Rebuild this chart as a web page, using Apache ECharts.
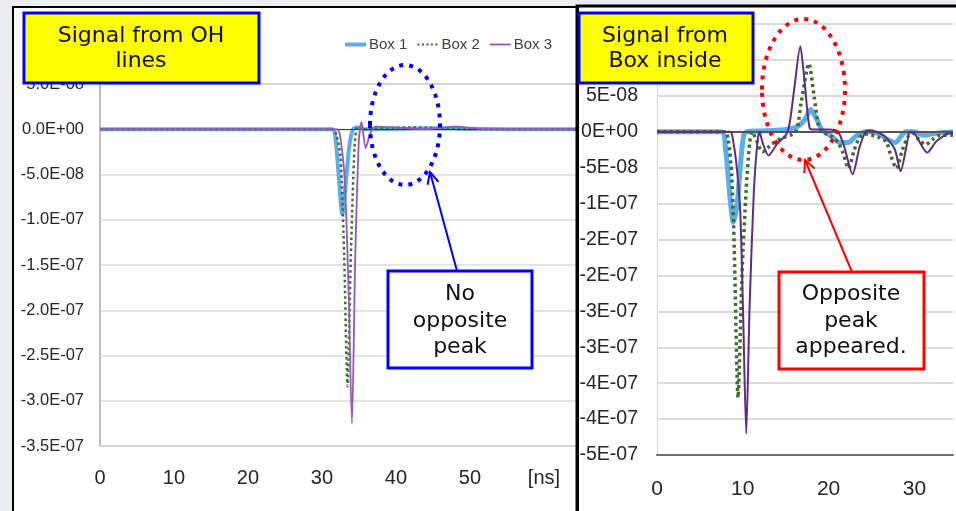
<!DOCTYPE html>
<html><head><meta charset="utf-8">
<script src="https://cdn.jsdelivr.net/npm/echarts@6/dist/echarts.min.js"></script>
<style>html,body{margin:0;padding:0;background:#fff}#c{width:956px;height:511px}</style>
</head><body><div id="c"></div><script>
// ---------- DATA ----------
const seriesNames = ['Box 1', 'Box 2', 'Box 3'];
// Left chart: "Signal from OH lines"  [time ns, signal]
const leftBox1 = [[0,0],[31.4,0],[31.8,-0.8e-8],[32.2,-4.5e-8],[32.75,-9.4e-8],[33.2,-6e-8],[33.7,-1.8e-8],[34.2,0],[34.8,0.2e-8],[36,0],[45,0.1e-8],[55,0],[64.6,0]];
const leftBox2 = [[0,0],[31.4,0],[31.9,-0.5e-8],[32.5,-3e-8],[33.0,-1.4e-7],[33.45,-2.84e-7],[33.9,-1.4e-7],[34.4,-2e-8],[34.8,0.3e-8],[35.5,0],[42,0.2e-8],[50,0],[64.6,0]];
const leftBox3 = [[0,0],[32.0,0],[32.5,-1e-8],[33.1,-6e-8],[33.6,-1.8e-7],[34.05,-3.25e-7],[34.5,-1.4e-7],[35.0,-1e-8],[35.35,0.8e-8],[35.9,-2.1e-8],[36.5,-0.5e-8],[37.2,0.3e-8],[40,0.2e-8],[44,0],[48,0.3e-8],[52,0],[64.6,0]];
// Right chart: "Signal from Box inside"
const rightBox1 = [[0,0],[7.5,0],[8.0,-2.5e-8],[8.5,-9e-8],[8.9,-1.26e-7],[9.3,-1.05e-7],[9.7,-5e-8],[10.1,-0.5e-8],[10.5,0],[12,0.1e-8],[14,0.2e-8],[15.5,0.4e-8],[16.5,0.8e-8],[17.3,1.8e-8],[17.9,3.1e-8],[18.6,1.8e-8],[19.2,0.3e-8],[20.3,-0.6e-8],[21.3,-1.5e-8],[22.3,-1.5e-8],[23.2,-0.6e-8],[24.3,0],[25.7,-0.2e-8],[26.9,-1.1e-8],[27.8,-1.5e-8],[28.4,-0.7e-8],[29,0],[30,0],[31.1,-0.5e-8],[32.5,-0.2e-8],[34.5,0]];
const rightBox2 = [[0,0],[7.9,0],[8.3,-1e-8],[8.7,-6e-8],[9.0,-1.6e-7],[9.45,-3.7e-7],[9.9,-2e-7],[10.4,-8e-8],[10.8,-1.5e-8],[11.1,0],[11.6,-1.2e-8],[12.3,-2.8e-8],[13.4,-1.7e-8],[14.5,-0.9e-8],[15.7,-0.4e-8],[16.3,0.3e-8],[16.8,4e-8],[17.7,9.5e-8],[18.3,5e-8],[18.8,1e-8],[19.2,0],[20.3,-0.6e-8],[21.1,-1.5e-8],[21.7,-3e-8],[22.3,-5.1e-8],[23.0,-2.5e-8],[23.6,-0.8e-8],[24.2,-0.3e-8],[25.7,-0.7e-8],[26.7,-1.4e-8],[27.3,-3.5e-8],[27.9,-5.1e-8],[28.6,-2.5e-8],[29.3,-0.6e-8],[29.8,-0.2e-8],[30.6,-1.2e-8],[31.3,-1.8e-8],[32.2,-1e-8],[33,-0.5e-8],[34.5,-0.5e-8]];
const rightBox3 = [[0,0],[8.5,0],[8.9,-1.5e-8],[9.3,-5e-8],[9.7,-1.1e-7],[10.05,-2.6e-7],[10.4,-4.2e-7],[10.8,-2.4e-7],[11.3,-8e-8],[11.7,-1.5e-8],[11.95,0],[12.3,-1.5e-8],[13.0,-3.3e-8],[14.0,-1.7e-8],[15.1,-0.3e-8],[15.5,1.5e-8],[16.0,6e-8],[16.7,1.19e-7],[17.2,7e-8],[17.8,0.5e-8],[18.5,0.3e-8],[20,0.3e-8],[21.1,0],[21.8,-2e-8],[22.8,-5.9e-8],[23.6,-2.2e-8],[24.3,0],[24.8,0.2e-8],[26.5,-0.6e-8],[27.7,-2.4e-8],[28.4,-5.5e-8],[29.0,-2.5e-8],[29.5,0],[30.1,-0.4e-8],[31.5,-2.9e-8],[32.6,-1.3e-8],[34.2,-0.2e-8],[34.5,-0.2e-8]];
// Tick labels
const leftXTickLabels = ['0','10','20','30','40','50','[ns]'];
const rightXTickLabels = ['0','10','20','30'];
const rightYTickLabels = ['2E-07','1E-07','5E-08','0E+00','-5E-08','-1E-07','-2E-07','-2E-07','-3E-07','-3E-07','-4E-07','-4E-07','-5E-07'];
const leftTitle = 'Signal from OH\nlines';
const rightTitle = 'Signal from\nBox inside';
const leftNote = 'No\nopposite\npeak';
const rightNote = 'Opposite\npeak\nappeared.';

// ---------- STYLE ----------
const SANS = "'Liberation Sans',Arial,sans-serif";
const GEO = "'DejaVu Sans',sans-serif";
const C1 = '#5AAEEE', C2 = '#3D6E29', C3L = '#9558B5', C3R = '#5F2C80';

function sciLeft(v){
  if (Math.abs(v) < 1e-12) return '0.0E+00';
  let s = v.toExponential(1);
  let m = s.split('e'); let e = parseInt(m[1],10);
  let es = (e<0?'-':'+') + String(Math.abs(e)).padStart(2,'0');
  return m[0] + 'E' + es;
}

const chart = echarts.init(document.getElementById('c'), null, {renderer:'canvas'});

function arrow(x1,y1,x2,y2,color,w){
  const dx=x2-x1, dy=y2-y1, L=Math.hypot(dx,dy), ux=dx/L, uy=dy/L;
  const hl=13, a=0.45;
  const c=Math.cos(a), s=Math.sin(a);
  const w1=[x2-hl*(ux*c-uy*s), y2-hl*(uy*c+ux*s)];
  const w2=[x2-hl*(ux*c+uy*s), y2-hl*(uy*c-ux*s)];
  return [
    {type:'polyline', z:100, shape:{points:[[x1,y1],[x2,y2]]}, style:{stroke:color, lineWidth:w, fill:null}},
    {type:'polyline', z:100, shape:{points:[w1,[x2,y2],w2]}, style:{stroke:color, lineWidth:w, fill:null}}
  ];
}

const axisLabelBase = {fontFamily:SANS, color:'#262626'};

const option = {
  backgroundColor:'#eaeef3',
  animation:false,
  legend:{
    data:[
      {name:seriesNames[0], lineStyle:{color:C1, width:4}},
      {name:seriesNames[1], lineStyle:{color:C2, width:2.2, type:[2,2.5]}},
      {name:seriesNames[2], lineStyle:{color:C3L, width:1.8}}
    ],
    left:338, top:32, itemWidth:21, itemHeight:12, itemGap:9,
    itemStyle:{color:'rgba(0,0,0,0)', borderColor:'rgba(0,0,0,0)', borderWidth:0, opacity:0},
    textStyle:{fontFamily:SANS, fontSize:15, color:'#404040', padding:[0,0,0,-2]}
  },
  grid:[
    {left:100, top:84, right:378, bottom:65, show:true, borderColor:'#7a7a7a', borderWidth:1, backgroundColor:'#fff'},
    {left:657, top:24, right:0, bottom:56, show:false}
  ],
  xAxis:[
    {gridIndex:0, type:'value', min:0, max:64.6, interval:10,
     axisLine:{show:false}, axisTick:{show:false}, splitLine:{show:false},
     axisLabel:{...axisLabelBase, fontSize:20, margin:22, showMaxLabel:true,
       formatter:v=>{const i=Math.round(v/10); return (Math.abs(v-i*10)<1e-6 && i<leftXTickLabels.length)? leftXTickLabels[i] : '';}}},
    {gridIndex:1, type:'value', min:0, max:34.5, interval:10,
     axisLine:{show:true, onZero:false, lineStyle:{color:'#6e6e6e', width:2}}, axisTick:{show:false}, splitLine:{show:false},
     axisLabel:{...axisLabelBase, fontSize:21, margin:24,
       formatter:v=>{const i=Math.round(v/10); return (Math.abs(v-i*10)<1e-6 && i<rightXTickLabels.length)? rightXTickLabels[i] : '';}}}
  ],
  yAxis:[
    {gridIndex:0, type:'value', min:-3.5e-7, max:5e-8, interval:5e-8,
     axisLine:{show:false}, axisTick:{show:false},
     splitLine:{show:true, lineStyle:{color:'#dcdcdc', width:1.5}},
     axisLabel:{...axisLabelBase, fontSize:16.5, margin:16, formatter:v=>sciLeft(v)}},
    {gridIndex:1, type:'value', min:-4.5e-7, max:1.5e-7, interval:5e-8,
     axisLine:{show:true, lineStyle:{color:'#d6d6d6', width:1}}, axisTick:{show:false},
     splitLine:{show:true, lineStyle:{color:'#dcdcdc', width:2}},
     axisLabel:{...axisLabelBase, fontSize:19.5, margin:19,
       formatter:v=>{const i=Math.round((1.5e-7-v)/5e-8); return rightYTickLabels[i]||'';}}}
  ],
  series:[
    {type:'line', xAxisIndex:0, yAxisIndex:0, data:[], silent:true, z:1,
     markLine:{silent:true, symbol:'none', label:{show:false}, animation:false,
       lineStyle:{color:'#3a3a3a', width:1.2, type:'solid'}, data:[{yAxis:0}]}},
    {type:'line', xAxisIndex:1, yAxisIndex:1, data:[], silent:true, z:1,
     markLine:{silent:true, symbol:'none', label:{show:false}, animation:false,
       lineStyle:{color:'#555', width:2, type:'solid'}, data:[{yAxis:0},{yAxis:1.5e-7}]}},
    {name:seriesNames[0], type:'line', xAxisIndex:0, yAxisIndex:0, data:leftBox1, symbol:'none', smooth:0.25, lineStyle:{color:C1, width:4}, itemStyle:{color:C1}, z:3},
    {name:seriesNames[1], type:'line', xAxisIndex:0, yAxisIndex:0, data:leftBox2, symbol:'none', smooth:0.25, lineStyle:{color:C2, width:2.5, type:[2.5,3]}, itemStyle:{color:C2}, z:4},
    {name:seriesNames[2], type:'line', xAxisIndex:0, yAxisIndex:0, data:leftBox3, symbol:'none', smooth:0.25, lineStyle:{color:C3L, width:1.8}, itemStyle:{color:C3L}, z:5},
    {name:seriesNames[0]+' (inside)', type:'line', xAxisIndex:1, yAxisIndex:1, data:rightBox1, symbol:'none', smooth:0.25, lineStyle:{color:C1, width:5}, itemStyle:{color:C1}, z:3},
    {name:seriesNames[1]+' (inside)', type:'line', xAxisIndex:1, yAxisIndex:1, data:rightBox2, symbol:'none', smooth:0.25, lineStyle:{color:C2, width:3.5, type:[3,3.5]}, itemStyle:{color:C2}, z:4},
    {name:seriesNames[2]+' (inside)', type:'line', xAxisIndex:1, yAxisIndex:1, data:rightBox3, symbol:'none', smooth:0.25, lineStyle:{color:C3R, width:2}, itemStyle:{color:C3R}, z:5}
  ],
  graphic:[
    {type:'rect', z:-10, shape:{x:13,y:7,width:565,height:510}, style:{fill:'#fff'}},
    {type:'rect', z:-10, shape:{x:578,y:6,width:380,height:510}, style:{fill:'#fff'}},
    {type:'rect', z:100, shape:{x:13,y:7,width:565,height:510}, style:{fill:null, stroke:'#000', lineWidth:2}},
    {type:'polyline', z:100, shape:{points:[[577,512],[577,6],[958,6]]}, style:{fill:null, stroke:'#000', lineWidth:3}},
    {type:'rect', z:100, shape:{x:24,y:13,width:235,height:70}, style:{fill:'#ffff00', stroke:'#0000ff', lineWidth:3}},
    {type:'text', z:101, style:{x:141, y:49, text:leftTitle, fill:'#111', font:'22px '+GEO, align:'center', verticalAlign:'middle', lineHeight:25}},
    {type:'rect', z:100, shape:{x:579,y:13,width:174,height:70}, style:{fill:'#ffff00', stroke:'#0000ff', lineWidth:3}},
    {type:'text', z:101, style:{x:665, y:49, text:rightTitle, fill:'#111', font:'22px '+GEO, align:'center', verticalAlign:'middle', lineHeight:25}},
    {type:'ellipse', z:100, shape:{cx:405, cy:125, rx:35, ry:60}, style:{fill:null, stroke:'#0000ff', lineWidth:4, lineDash:[4,6]}},
    {type:'ellipse', z:100, shape:{cx:803.5, cy:89.5, rx:41.5, ry:70.5}, style:{fill:null, stroke:'#ff0000', lineWidth:4, lineDash:[4,6]}},
    ...arrow(457,271,430,172,'#0000ff',2),
    ...arrow(852,272,805,160,'#ff0000',2),
    {type:'rect', z:100, shape:{x:388,y:271,width:144,height:97}, style:{fill:'#fff', stroke:'#0000ff', lineWidth:3}},
    {type:'text', z:101, style:{x:460, y:321, text:leftNote, fill:'#111', font:'22px '+GEO, align:'center', verticalAlign:'middle', lineHeight:26.5}},
    {type:'rect', z:100, shape:{x:779,y:272,width:145,height:97}, style:{fill:'#fff', stroke:'#ff0000', lineWidth:3}},
    {type:'text', z:101, style:{x:851, y:321, text:rightNote, fill:'#111', font:'22px '+GEO, align:'center', verticalAlign:'middle', lineHeight:26.5}}
  ]
};
chart.setOption(option);
</script></body></html>
